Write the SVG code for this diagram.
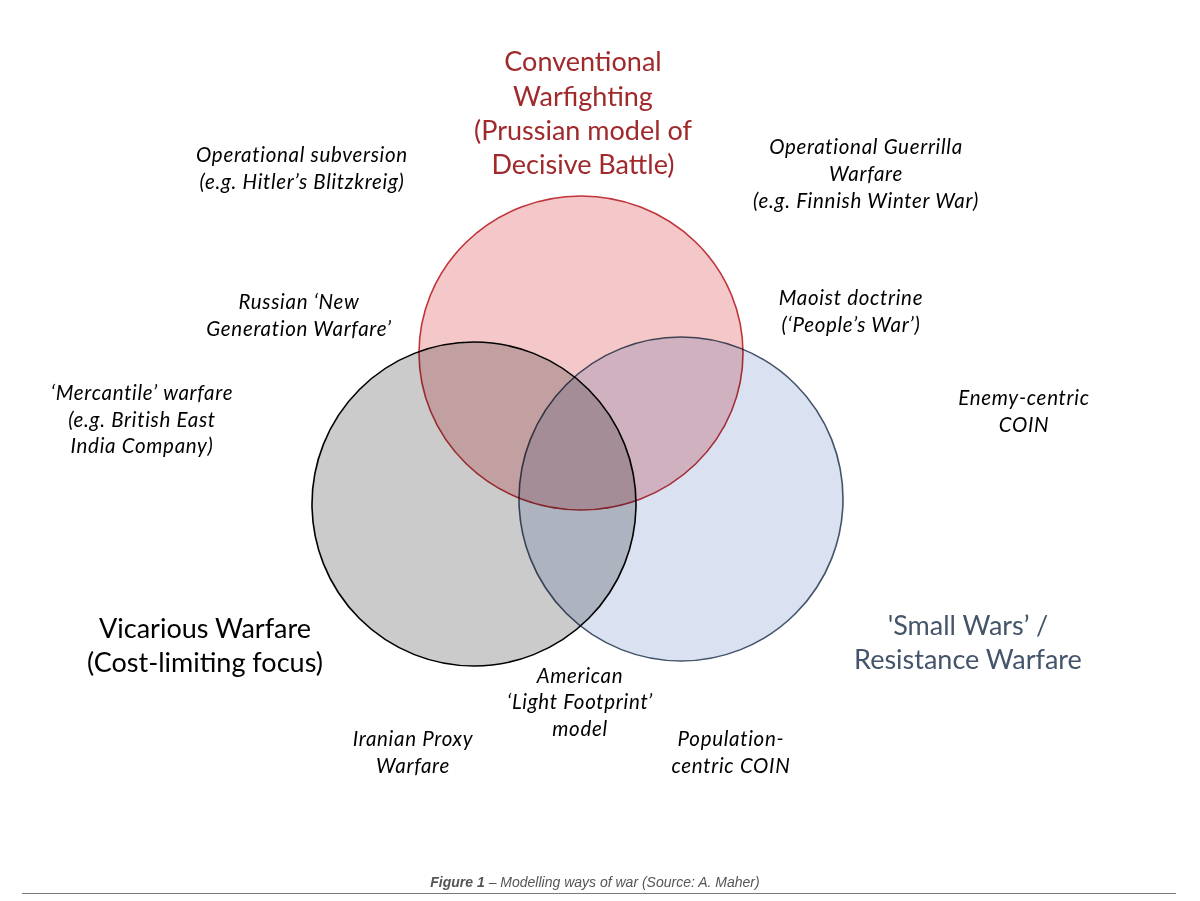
<svg xmlns="http://www.w3.org/2000/svg" width="1200" height="901" viewBox="0 0 1200 901">
<style>
  text { font-family: Lato, "Open Sans", "Liberation Sans", sans-serif; text-anchor: middle; }
  .lbl { font-size: 20.5px; font-style: italic; fill: #000; letter-spacing: 0.7px; }
  .big { font-size: 27px; }
  .circ { mix-blend-mode: multiply; stroke-width: 1.6; }
  .cap { font-family: "Liberation Sans", Arial, sans-serif; font-size: 14px; font-style: italic; fill: #555; }
</style>
<rect x="0" y="0" width="1200" height="901" fill="#ffffff"/>
<g id="circles" style="isolation:isolate">
  <g id="node-vicarious-circle"><circle class="circ" cx="474" cy="504" r="162" fill="#cbcbcb" stroke="#000000"/></g>
  <g id="node-smallwars-circle"><circle class="circ" cx="681" cy="499" r="162" fill="#dae2f2" stroke="#44546a"/></g>
  <g id="node-conventional-circle"><ellipse class="circ" cx="581" cy="353" rx="162" ry="157" fill="#f4c8c9" stroke="#c0343a"/></g>
</g>
<g id="connectors"></g>
<g id="node-conventional">
  <text class="big" fill="#a0292b"><tspan x="583" y="71">Conventional</tspan><tspan x="583" y="106">Warfighting</tspan><tspan x="583" y="140">(Prussian model of</tspan><tspan x="583" y="174">Decisive Battle)</tspan></text>
</g>
<g id="node-vicarious">
  <text class="big" fill="#000"><tspan x="205" y="638">Vicarious Warfare</tspan><tspan x="205" y="672">(Cost-limiting focus)</tspan></text>
</g>
<g id="node-smallwars">
  <text class="big" fill="#44546a"><tspan x="968" y="635">'Small Wars’ /</tspan><tspan x="968" y="669">Resistance Warfare</tspan></text>
</g>
<g id="node-op-subversion">
  <text class="lbl"><tspan x="302" y="162">Operational subversion</tspan><tspan x="302" y="189">(e.g. Hitler’s Blitzkreig)</tspan></text>
</g>
<g id="node-op-guerrilla">
  <text class="lbl"><tspan x="866" y="154">Operational Guerrilla</tspan><tspan x="866" y="181">Warfare</tspan><tspan x="866" y="208">(e.g. Finnish Winter War)</tspan></text>
</g>
<g id="node-russian">
  <text class="lbl"><tspan x="299" y="309">Russian ‘New</tspan><tspan x="299" y="336">Generation Warfare’</tspan></text>
</g>
<g id="node-maoist">
  <text class="lbl"><tspan x="851" y="305">Maoist doctrine</tspan><tspan x="851" y="332">(‘People’s War’)</tspan></text>
</g>
<g id="node-mercantile">
  <text class="lbl"><tspan x="142" y="400">‘Mercantile’ warfare</tspan><tspan x="142" y="427">(e.g. British East</tspan><tspan x="142" y="453">India Company)</tspan></text>
</g>
<g id="node-enemy-coin">
  <text class="lbl"><tspan x="1024" y="405">Enemy-centric</tspan><tspan x="1024" y="432">COIN</tspan></text>
</g>
<g id="node-american">
  <text class="lbl"><tspan x="580" y="683">American</tspan><tspan x="580" y="709">‘Light Footprint’</tspan><tspan x="580" y="736">model</tspan></text>
</g>
<g id="node-iranian">
  <text class="lbl"><tspan x="413" y="746">Iranian Proxy</tspan><tspan x="413" y="773">Warfare</tspan></text>
</g>
<g id="node-population-coin">
  <text class="lbl"><tspan x="731" y="746">Population-</tspan><tspan x="731" y="773">centric COIN</tspan></text>
</g>
<g id="caption">
  <text class="cap" x="595" y="887"><tspan font-weight="bold">Figure 1</tspan> – Modelling ways of war (Source: A. Maher)</text>
  <line x1="22" y1="893.5" x2="1176" y2="893.5" stroke="#7a7a7a" stroke-width="1"/>
</g>
</svg>
